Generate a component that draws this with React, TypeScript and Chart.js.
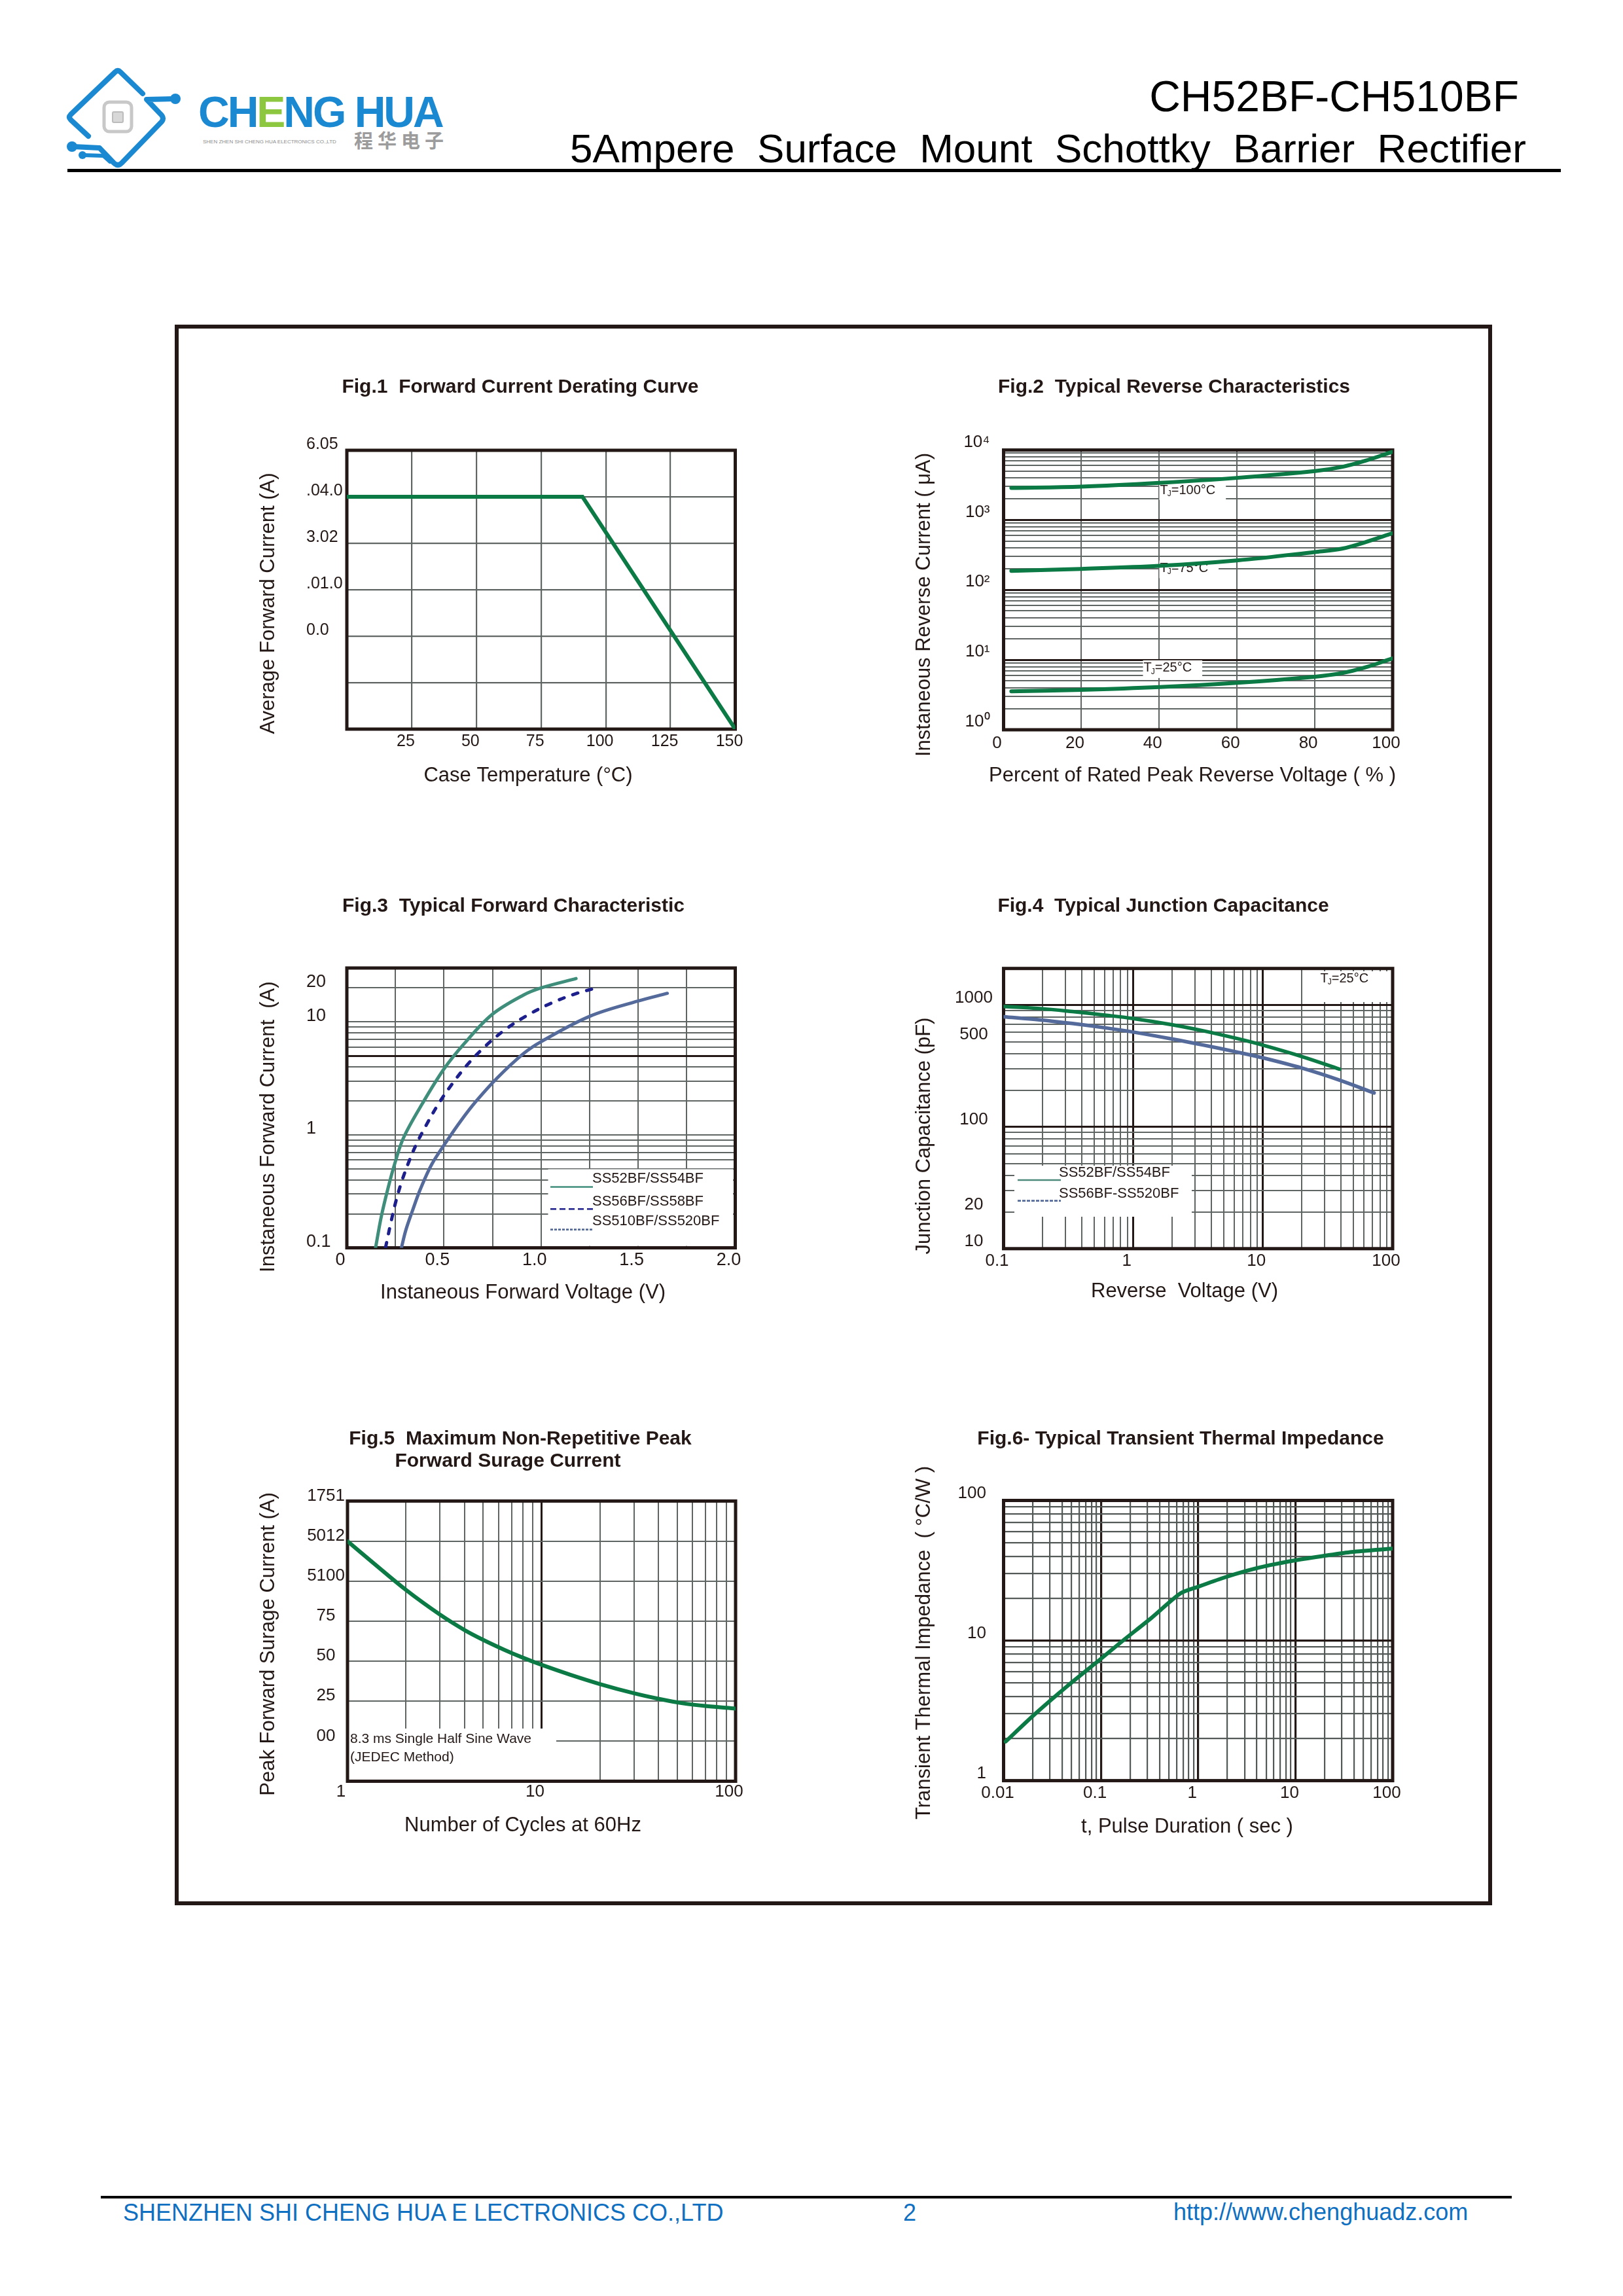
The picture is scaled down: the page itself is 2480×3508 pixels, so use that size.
import React, { useEffect, useRef } from 'react';
import { Chart, registerables } from 'chart.js';

Chart.register(...registerables);

const FONT = '"Liberation Sans", Arial, Helvetica, sans-serif';
const INK = '#231815';
const GREEN = '#0b7a45';
const TEAL = '#3f8e7b';
const NAVY = '#1d208c';
const SLATE = '#546a9b';
const GRID = '#5f6563';
const BLUE = '#1a89d2';
const FOOT_BLUE = '#0f6fc1';

const LOG_STEPS = [1, 2, 3, 4, 5, 6, 7, 8, 9];
const logTicks = (decades: number[], extra: number[]) => [
  ...decades.flatMap((d) => LOG_STEPS.map((s) => parseFloat((s * d).toPrecision(6)))),
  ...extra,
];

// ---------------- Fig.1 Forward Current Derating Curve
const fig1CaseTemp = [0, 91, 150];
const fig1AvgCurrent = [5, 5, 0];
const fig1XTicks = [0, 25, 50, 75, 100, 125, 150];
const fig1XLabels = ['', '25', '50', '75', '100', '125', '150'];
const fig1YTicks = [0, 1, 2, 3, 4, 5, 6];
const fig1YLabels = ['', '', '0.0', '.01.0', '3.02', '.04.0', '6.05'];

// ---------------- Fig.2 Typical Reverse Characteristics
const fig2Percent = [2, 20, 40, 60, 80, 87, 93, 100];
const fig2Tj100 = [2870, 3000, 3390, 4000, 5000, 5740, 7030, 9460];
const fig2Tj75 = [187, 200, 221, 264, 348, 389, 482, 647];
const fig2Tj25 = [3.55, 3.72, 4.07, 4.69, 5.74, 6.47, 7.8, 10.5];
const fig2XTicks = [0, 20, 40, 60, 80, 100];
const fig2XLabels = ['0', '20', '40', '60', '80', '100'];
const fig2YTicks = logTicks([1, 10, 100, 1000], [10000]);
const fig2YLabelValues = [1, 10, 100, 1000, 10000];
const fig2YLabels = ['10⁰', '10¹', '10²', '10³', '10⁴'];
const fig2YMajors = [10, 100, 1000];
const fig2NoteTemps = ['100°C', '75°C', '25°C'];
const fig2NoteX = [40.2, 40.2, 36];
const fig2NoteY = [2660, 203, 7.6];

// ---------------- Fig.3 Typical Forward Characteristic
const fig3VfA = [0.148, 0.177, 0.211, 0.246, 0.292, 0.388, 0.5, 0.607, 0.747, 0.91, 1.0, 1.18];
const fig3IfA = [0.1, 0.188, 0.332, 0.552, 0.943, 1.88, 3.83, 6.5, 11.6, 17.3, 20.0, 24.2];
const fig3VfB = [0.199, 0.227, 0.253, 0.283, 0.32, 0.36, 0.41, 0.47, 0.54, 0.62, 0.71, 0.81, 0.92, 1.05, 1.18, 1.306];
const fig3IfB = [0.1, 0.168, 0.26, 0.389, 0.582, 0.841, 1.23, 1.86, 2.79, 4.17, 6.03, 8.41, 11.2, 14.6, 17.8, 20.4];
const fig3VfC = [0.281, 0.303, 0.337, 0.379, 0.438, 0.522, 0.584, 0.663, 0.775, 0.91, 1.0, 1.25, 1.5, 1.65];
const fig3IfC = [0.1, 0.142, 0.211, 0.332, 0.552, 0.92, 1.31, 1.96, 3.2, 5.25, 6.68, 11.2, 15.3, 17.9];
const fig3XTicks = [0, 0.25, 0.5, 0.75, 1, 1.25, 1.5, 1.75, 2];
const fig3XLabelValues = [0, 0.5, 1, 1.5, 2];
const fig3XLabels = ['0', '0.5', '1.0', '1.5', '2.0'];
const fig3YTicks = logTicks([0.1, 1], [10, 20, 30]);
const fig3YLabelValues = [0.1, 1, 10, 20];
const fig3YLabels = ['0.1', '1', '10', '20'];
const fig3YMajors = [5];
const fig3Series = ['SS52BF/SS54BF', 'SS56BF/SS58BF', 'SS510BF/SS520BF'];

// ---------------- Fig.4 Typical Junction Capacitance
const fig4VrA = [0.1, 0.19, 0.34, 0.62, 1, 2, 3.5, 6.3, 10, 20, 39];
const fig4CjA = [975, 938, 885, 826, 776, 690, 614, 532, 469, 378, 298];
const fig4VrB = [0.1, 0.19, 0.34, 0.62, 1, 2, 3.5, 6.3, 10, 20, 39, 72];
const fig4CjB = [802, 757, 706, 649, 601, 527, 469, 412, 369, 304, 242, 190];
const fig4XTicks = logTicks([0.1, 1, 10], [100]);
const fig4XLabelValues = [0.1, 1, 10, 100];
const fig4XLabels = ['0.1', '1', '10', '100'];
const fig4XMajors = [1, 10];
const fig4YTicks = logTicks([10, 100], [1000, 2000]);
const fig4YLabelValues = [10, 20, 100, 500, 1000];
const fig4YLabels = ['10', '20', '100', '500', '1000'];
const fig4YMajors = [100, 1000];
const fig4Series = ['SS52BF/SS54BF', 'SS56BF-SS520BF'];

// ---------------- Fig.5 Maximum Non-Repetitive Peak Forward Surage Current
const fig5Cycles = [1, 1.35, 2, 3, 4, 5, 6.4, 8, 10, 14, 20, 30, 40, 54, 71, 100];
const fig5Ifsm = [149.9, 136.6, 119.5, 104.0, 94.5, 88.3, 82.2, 77.2, 72.7, 66.6, 60.7, 54.9, 51.5, 48.6, 46.9, 45.4];
const fig5XTicks = logTicks([1, 10], [100]);
const fig5XLabelValues = [1, 10, 100];
const fig5XLabels = ['1', '10', '100'];
const fig5XMajors = [10];
const fig5YTicks = [0, 25, 50, 75, 100, 125, 150, 175];
const fig5YLabels = ['', '00', '25', '50', '75', '5100', '5012', '1751'];
const fig5Note = ['8.3 ms Single Half Sine Wave', '(JEDEC Method)'];

// ---------------- Fig.6 Typical Transient Thermal Impedance
const fig6Time = [0.0105, 0.0206, 0.0447, 0.1, 0.166, 0.335, 0.658, 1, 1.84, 3.17, 5.45, 10, 20.4, 37.9, 100];
const fig6Zth = [1.9, 2.95, 4.7, 7.4, 9.9, 14.6, 21.7, 24.2, 28.1, 31.5, 34.5, 37.4, 40.4, 42.9, 45.3];
const fig6XTicks = logTicks([0.01, 0.1, 1, 10], [100]);
const fig6XLabelValues = [0.01, 0.1, 1, 10, 100];
const fig6XLabels = ['0.01', '0.1', '1', '10', '100'];
const fig6XMajors = [0.1, 1, 10];
const fig6YTicks = logTicks([1, 10], [100]);
const fig6YLabelValues = [1, 10, 100];
const fig6YLabels = ['1', '10', '100'];
const fig6YMajors = [10];

// ---------------- helpers
type AxisSpec = {
  type: 'linear' | 'logarithmic';
  min: number;
  max: number;
  ticks: number[];
  labelValues: number[];
  labels: string[];
  majors?: number[];
  labelOffset: number;
  padding: number;
  font: number;
  crossAlign?: 'near' | 'center' | 'far';
};
type TextSpec = { text: string; cx: number; cy: number };
type PFn = (x: number, y: number) => [number, number];
type FigSpec = {
  box: { L: number; R: number; T: number; B: number };
  yScaleLeft: number;
  titles: TextSpec[];
  xTitle: TextSpec;
  yTitle: TextSpec;
  x: AxisSpec;
  y: AxisSpec;
  datasets: () => any[];
  gridColor: string;
  gridWidth: number;
  majorWidth: number;
  under?: (chart: any, ctx: CanvasRenderingContext2D, P: PFn) => void;
  over?: (chart: any, ctx: CanvasRenderingContext2D, P: PFn) => void;
};

const near = (a: number, b: number) => b !== undefined && b !== null && Math.abs(a - b) <= 1e-9 + 1e-6 * Math.abs(a);

const line = (xs: number[], ys: number[], color: string, width: number, extra: any = {}) => ({
  data: xs.map((x, i) => ({ x, y: ys[i] })),
  borderColor: color,
  backgroundColor: color,
  borderWidth: width,
  pointRadius: 0,
  pointHoverRadius: 0,
  fill: false,
  tension: 0.35,
  borderCapStyle: 'round',
  borderJoinStyle: 'round',
  ...extra,
});

function tjLabel(ctx: CanvasRenderingContext2D, x: number, y: number, temp: string, fs: number, draw: boolean) {
  ctx.textAlign = 'left';
  ctx.textBaseline = 'middle';
  ctx.fillStyle = INK;
  const big = `${fs}px ${FONT}`;
  const small = `${Math.round(fs * 0.62)}px ${FONT}`;
  ctx.font = big;
  const w1 = ctx.measureText('T').width;
  ctx.font = small;
  const w2 = ctx.measureText('J').width;
  ctx.font = big;
  const w3 = ctx.measureText('=' + temp).width;
  if (draw) {
    ctx.font = big;
    ctx.fillText('T', x, y);
    ctx.font = small;
    ctx.fillText('J', x + w1 - 1, y + fs * 0.28);
    ctx.font = big;
    ctx.fillText('=' + temp, x + w1 + w2 - 1, y);
  }
  return w1 + w2 + w3;
}

function legendLine(ctx: CanvasRenderingContext2D, a: [number, number], x2: number, color: string, width: number, dash: number[]) {
  ctx.save();
  ctx.strokeStyle = color;
  ctx.lineWidth = width;
  ctx.setLineDash(dash);
  ctx.beginPath();
  ctx.moveTo(a[0], a[1]);
  ctx.lineTo(x2, a[1]);
  ctx.stroke();
  ctx.restore();
}

function leftText(ctx: CanvasRenderingContext2D, s: string, p: [number, number], size: number) {
  ctx.save();
  ctx.fillStyle = INK;
  ctx.font = `${size}px ${FONT}`;
  ctx.textAlign = 'left';
  ctx.textBaseline = 'middle';
  ctx.fillText(s, p[0], p[1]);
  ctx.restore();
}

function whiteRect(ctx: CanvasRenderingContext2D, P: PFn, x1: number, y1: number, x2: number, y2: number) {
  const [a, b] = P(x1, y1);
  ctx.fillStyle = '#ffffff';
  ctx.fillRect(a, b, x2 - x1, y2 - y1);
}

// ---------------- figure specifications (page coordinates)
const FIGS: FigSpec[] = [
  {
    box: { L: 530, R: 1123.5, T: 688, B: 1114 },
    yScaleLeft: 468,
    titles: [{ text: 'Fig.1  Forward Current Derating Curve', cx: 795, cy: 592 }],
    xTitle: { text: 'Case Temperature (°C)', cx: 807, cy: 1185 },
    yTitle: { text: 'Average Forward Current (A)', cx: 410, cy: 922 },
    x: { type: 'linear', min: 0, max: 150, ticks: fig1XTicks, labelValues: fig1XTicks, labels: fig1XLabels, labelOffset: -9, padding: 4, font: 25 },
    y: { type: 'linear', min: 0, max: 6, ticks: fig1YTicks, labelValues: fig1YTicks, labels: fig1YLabels, labelOffset: -9, padding: 0, font: 25, crossAlign: 'far' },
    datasets: () => [
      line(fig1CaseTemp, fig1AvgCurrent, GREEN, 6, { tension: 0, borderCapStyle: 'butt', borderJoinStyle: 'miter' }),
    ],
    gridColor: GRID,
    gridWidth: 2.2,
    majorWidth: 3,
  },
  {
    box: { L: 1533.5, R: 2128, T: 687.6, B: 1115 },
    yScaleLeft: 1440,
    titles: [{ text: 'Fig.2  Typical Reverse Characteristics', cx: 1794, cy: 592 }],
    xTitle: { text: 'Percent of Rated Peak Reverse Voltage ( % )', cx: 1822, cy: 1185 },
    yTitle: { text: 'Instaneous Reverse Current ( μA)', cx: 1412, cy: 924 },
    x: { type: 'linear', min: 0, max: 100, ticks: fig2XTicks, labelValues: fig2XTicks, labels: fig2XLabels, labelOffset: -10, padding: 5, font: 26 },
    y: { type: 'logarithmic', min: 1, max: 10000, ticks: fig2YTicks, labelValues: fig2YLabelValues, labels: fig2YLabels, majors: fig2YMajors, labelOffset: -12, padding: 21, font: 26, crossAlign: 'near' },
    datasets: () => [line(fig2Percent, fig2Tj100, GREEN, 6), line(fig2Percent, fig2Tj75, GREEN, 6), line(fig2Percent, fig2Tj25, GREEN, 6)],
    gridColor: GRID,
    gridWidth: 2,
    majorWidth: 3,
    under: (chart, ctx) => {
      const xs = chart.scales.x;
      const ys = chart.scales.y;
      fig2NoteTemps.forEach((t, i) => {
        const px = xs.getPixelForValue(fig2NoteX[i]);
        const py = ys.getPixelForValue(fig2NoteY[i]);
        const w = tjLabel(ctx, px, py, t, 20, false);
        ctx.fillStyle = '#ffffff';
        ctx.fillRect(px - 1, py - 12, w + 16, 27);
        tjLabel(ctx, px, py, t, 20, true);
      });
    },
  },
  {
    box: { L: 530, R: 1123.5, T: 1479, B: 1906.5 },
    yScaleLeft: 468,
    titles: [{ text: 'Fig.3  Typical Forward Characteristic', cx: 784.5, cy: 1384.5 }],
    xTitle: { text: 'Instaneous Forward Voltage (V)', cx: 799, cy: 1975.5 },
    yTitle: { text: 'Instaneous Forward Current  (A)', cx: 410, cy: 1721.7 },
    x: { type: 'linear', min: 0, max: 2, ticks: fig3XTicks, labelValues: fig3XLabelValues, labels: fig3XLabels, labelOffset: -10, padding: 3, font: 27 },
    y: { type: 'logarithmic', min: 0.1, max: 30, ticks: fig3YTicks, labelValues: fig3YLabelValues, labels: fig3YLabels, majors: fig3YMajors, labelOffset: -9, padding: 0, font: 27, crossAlign: 'far' },
    datasets: () => [
      line(fig3VfA, fig3IfA, TEAL, 5),
      line(fig3VfB, fig3IfB, NAVY, 5, { borderDash: [8, 14] }),
      line(fig3VfC, fig3IfC, SLATE, 5),
    ],
    gridColor: GRID,
    gridWidth: 2,
    majorWidth: 3,
    under: (chart, ctx, P) => {
      whiteRect(ctx, P, 837.5, 1786.4, 1120, 1903.6);
    },
    over: (chart, ctx, P) => {
      const rows = [
        { c: TEAL, dash: [] as number[], ly: 1813.5, ty: 1801 },
        { c: NAVY, dash: [9, 5], ly: 1847.3, ty: 1836.3 },
        { c: SLATE, dash: [4, 2], ly: 1878.6, ty: 1866 },
      ];
      rows.forEach((r, i) => {
        const a = P(841, r.ly);
        legendLine(ctx, a, P(906, r.ly)[0], r.c, 2.6, r.dash);
        leftText(ctx, fig3Series[i], P(905, r.ty), 22);
      });
    },
  },
  {
    box: { L: 1533.5, R: 2128, T: 1479.7, B: 1907.8 },
    yScaleLeft: 1440,
    titles: [{ text: 'Fig.4  Typical Junction Capacitance', cx: 1777.5, cy: 1384.5 }],
    xTitle: { text: 'Reverse  Voltage (V)', cx: 1810, cy: 1973.4 },
    yTitle: { text: 'Junction Capacitance (pF)', cx: 1412, cy: 1735.5 },
    x: { type: 'logarithmic', min: 0.1, max: 100, ticks: fig4XTicks, labelValues: fig4XLabelValues, labels: fig4XLabels, majors: fig4XMajors, labelOffset: -10, padding: 3, font: 26 },
    y: { type: 'logarithmic', min: 10, max: 2000, ticks: fig4YTicks, labelValues: fig4YLabelValues, labels: fig4YLabels, majors: fig4YMajors, labelOffset: -11, padding: 16.6, font: 26, crossAlign: 'center' },
    datasets: () => [line(fig4VrA, fig4CjA, GREEN, 5.5), line(fig4VrB, fig4CjB, SLATE, 5.5)],
    gridColor: GRID,
    gridWidth: 2,
    majorWidth: 3,
    under: (chart, ctx, P) => {
      whiteRect(ctx, P, 2010, 1484, 2125, 1531);
      whiteRect(ctx, P, 1550, 1781, 1821, 1859);
      const p = P(2017.5, 1495.4);
      tjLabel(ctx, p[0], p[1], '25°C', 20, true);
    },
    over: (chart, ctx, P) => {
      legendLine(ctx, P(1555, 1803), P(1621, 1803)[0], '#4d8a7b', 2.6, []);
      leftText(ctx, fig4Series[0], P(1618, 1791.5), 22);
      legendLine(ctx, P(1555, 1834.6), P(1621, 1834.6)[0], SLATE, 2.6, [5, 2]);
      leftText(ctx, fig4Series[1], P(1618, 1824), 22);
    },
  },
  {
    box: { L: 531, R: 1124, T: 2293.4, B: 2721.5 },
    yScaleLeft: 440,
    titles: [
      { text: 'Fig.5  Maximum Non-Repetitive Peak', cx: 795, cy: 2199 },
      { text: 'Forward Surage Current', cx: 776, cy: 2233 },
    ],
    xTitle: { text: 'Number of Cycles at 60Hz', cx: 799, cy: 2789 },
    yTitle: { text: 'Peak Forward Surage Current (A)', cx: 410, cy: 2512 },
    x: { type: 'logarithmic', min: 1, max: 100, ticks: fig5XTicks, labelValues: fig5XLabelValues, labels: fig5XLabels, majors: fig5XMajors, labelOffset: -10, padding: 1, font: 26 },
    y: { type: 'linear', min: 0, max: 175, ticks: fig5YTicks, labelValues: fig5YTicks, labels: fig5YLabels, labelOffset: -8, padding: 4, font: 26, crossAlign: 'center' },
    datasets: () => [line(fig5Cycles, fig5Ifsm, GREEN, 6)],
    gridColor: GRID,
    gridWidth: 2,
    majorWidth: 3,
    under: (chart, ctx, P) => {
      whiteRect(ctx, P, 531, 2641, 850, 2721.5);
      leftText(ctx, fig5Note[0], P(535, 2657), 21);
      leftText(ctx, fig5Note[1], P(535, 2685), 21);
    },
  },
  {
    box: { L: 1533.5, R: 2128, T: 2292.5, B: 2720.6 },
    yScaleLeft: 1440,
    titles: [{ text: 'Fig.6- Typical Transient Thermal Impedance', cx: 1804, cy: 2199 }],
    xTitle: { text: 't, Pulse Duration ( sec )', cx: 1814, cy: 2791.3 },
    yTitle: { text: 'Transient Thermal Impedance  ( °C/W )', cx: 1412, cy: 2510 },
    x: { type: 'logarithmic', min: 0.01, max: 100, ticks: fig6XTicks, labelValues: fig6XLabelValues, labels: fig6XLabels, majors: fig6XMajors, labelOffset: -9, padding: 4, font: 26 },
    y: { type: 'logarithmic', min: 1, max: 100, ticks: fig6YTicks, labelValues: fig6YLabelValues, labels: fig6YLabels, majors: fig6YMajors, labelOffset: -11, padding: 26.5, font: 26, crossAlign: 'near' },
    datasets: () => [line(fig6Time, fig6Zth, GREEN, 6, { tension: 0.25 })],
    gridColor: '#535957',
    gridWidth: 2.2,
    majorWidth: 3.2,
  },
];

function layoutOf(f: FigSpec) {
  const cl = Math.floor(Math.min(f.yScaleLeft, f.yTitle.cx - 20) - 20);
  const ct = Math.floor(f.box.T - 170);
  const cr = Math.ceil(f.box.R + 50);
  const cb = Math.ceil(f.xTitle.cy + 40);
  const xH = 60;
  return {
    cl,
    ct,
    cw: cr - cl,
    ch: cb - ct,
    pad: { left: f.yScaleLeft - cl, right: cr - f.box.R, top: f.box.T - ct, bottom: cb - f.box.B - xH },
    yW: f.box.L - f.yScaleLeft,
    xH,
  };
}

function axisOptions(a: AxisSpec, isY: boolean, f: FigSpec, lay: any) {
  const isMajor = (v: number) => (a.majors || []).some((m) => near(m, v));
  return {
    type: a.type,
    position: isY ? 'left' : 'bottom',
    min: a.min,
    max: a.max,
    bounds: 'data',
    afterBuildTicks: (s: any) => {
      s.ticks = a.ticks.map((v) => ({ value: v }));
    },
    afterFit: (s: any) => {
      if (isY) {
        s.width = lay.yW;
        s.paddingTop = 0;
        s.paddingBottom = 0;
      } else {
        s.height = lay.xH;
        s.paddingLeft = 0;
        s.paddingRight = 0;
      }
    },
    grid: {
      drawTicks: false,
      color: (c: any) => (c.tick && isMajor(c.tick.value) ? INK : f.gridColor),
      lineWidth: (c: any) => (c.tick && isMajor(c.tick.value) ? f.majorWidth : f.gridWidth),
    },
    border: { display: false },
    title: { display: false },
    ticks: {
      autoSkip: false,
      maxRotation: 0,
      minRotation: 0,
      padding: a.padding,
      labelOffset: a.labelOffset,
      crossAlign: a.crossAlign || 'near',
      color: INK,
      font: { family: FONT, size: a.font },
      callback: (v: any) => {
        const i = a.labelValues.findIndex((x) => near(x, Number(v)));
        return i < 0 ? '' : a.labels[i];
      },
    },
  };
}

function FigChart({ fig }: { fig: FigSpec }) {
  const ref = useRef<HTMLCanvasElement>(null);
  const lay = layoutOf(fig);
  useEffect(() => {
    const canvas = ref.current;
    if (!canvas) return;
    const P: PFn = (x, y) => [x - lay.cl, y - lay.ct];
    const deco = {
      id: 'sheetDeco',
      beforeDatasetsDraw(chart: any) {
        const ctx = chart.ctx as CanvasRenderingContext2D;
        ctx.save();
        if (fig.under) fig.under(chart, ctx, P);
        const a = chart.chartArea;
        ctx.strokeStyle = INK;
        ctx.lineWidth = 5;
        ctx.setLineDash([]);
        ctx.strokeRect(a.left, a.top, a.right - a.left, a.bottom - a.top);
        ctx.restore();
      },
      afterDatasetsDraw(chart: any) {
        const ctx = chart.ctx as CanvasRenderingContext2D;
        ctx.save();
        if (fig.over) fig.over(chart, ctx, P);
        ctx.restore();
      },
      afterDraw(chart: any) {
        const ctx = chart.ctx as CanvasRenderingContext2D;
        ctx.save();
        ctx.fillStyle = INK;
        ctx.textAlign = 'center';
        ctx.textBaseline = 'middle';
        ctx.font = `bold 30px ${FONT}`;
        for (const t of fig.titles) {
          const [x, y] = P(t.cx, t.cy);
          ctx.fillText(t.text, x, y);
        }
        ctx.font = `31px ${FONT}`;
        const [xx, xy] = P(fig.xTitle.cx, fig.xTitle.cy);
        ctx.fillText(fig.xTitle.text, xx, xy);
        const [yx, yy] = P(fig.yTitle.cx, fig.yTitle.cy);
        ctx.translate(yx, yy);
        ctx.rotate(-Math.PI / 2);
        ctx.fillText(fig.yTitle.text, 0, 0);
        ctx.restore();
      },
    };
    const chart = new Chart(canvas, {
      type: 'line',
      data: { datasets: fig.datasets() },
      options: {
        responsive: false,
        maintainAspectRatio: false,
        animation: false,
        devicePixelRatio: 1,
        events: [],
        layout: { padding: lay.pad },
        plugins: { legend: { display: false }, title: { display: false }, tooltip: { enabled: false } },
        scales: { x: axisOptions(fig.x, false, fig, lay), y: axisOptions(fig.y, true, fig, lay) } as any,
      } as any,
      plugins: [deco as any],
    });
    return () => chart.destroy();
  }, []);
  return (
    <canvas
      ref={ref}
      width={lay.cw}
      height={lay.ch}
      style={{ position: 'absolute', left: lay.cl, top: lay.ct, width: lay.cw, height: lay.ch }}
    />
  );
}

function Txt({ left, right, baseline, size, color, weight, family, spacing, children }: any) {
  return (
    <div
      style={{
        position: 'absolute',
        left,
        right,
        top: baseline - 0.8465 * size,
        fontSize: size,
        lineHeight: `${size}px`,
        whiteSpace: 'pre',
        fontFamily: family || FONT,
        fontWeight: weight || 400,
        letterSpacing: spacing || 0,
        color: color || '#000',
      }}
    >
      {children}
    </div>
  );
}

function Header() {
  return (
    <>
      <svg width={700} height={280} viewBox="0 0 700 280" style={{ position: 'absolute', left: 0, top: 0 }}>
        <g fill="none" stroke={BLUE} strokeWidth={8} strokeLinecap="round" strokeLinejoin="round">
          <path d="M135 208 L108 183 Q104 179 108 175 L176 110 Q180 106 184 110 L218 143" />
          <path d="M266 151 L224 152 L247 176 Q251 181 247 186 L186 249 Q180 255 174 249 L152 226 L112 224" />
          <path d="M127 237 L158 238 L168 247" strokeWidth={6} />
        </g>
        <circle cx={268} cy={151} r={8} fill={BLUE} />
        <circle cx={110} cy={224} r={8} fill={BLUE} />
        <circle cx={126} cy={237} r={6} fill={BLUE} />
        <rect x={159} y={156} width={42} height={45} rx={8} fill="none" stroke="#c8c8c8" strokeWidth={5} />
        <rect x={172} y={171} width={16} height={16} rx={2} fill="#d8d8d8" stroke="#bcbcbc" strokeWidth={2} />
      </svg>
      <Txt left={303} baseline={193.5} size={66} weight={700} spacing={-3} color={BLUE}>
        CH<span style={{ color: '#8dc63f' }}>E</span>NG HUA
      </Txt>
      <Txt left={310} baseline={219.5} size={8} color="#8c8c8c">
        SHEN ZHEN SHI CHENG HUA ELECTRONICS CO.,LTD
      </Txt>
      <div
        style={{
          position: 'absolute',
          left: 541,
          top: 199,
          fontSize: 29,
          lineHeight: '29px',
          letterSpacing: 7,
          fontWeight: 700,
          color: '#9c9c9c',
          whiteSpace: 'pre',
          fontFamily: '"Noto Sans CJK SC", sans-serif',
        }}
      >
        程华电子
      </div>
      <Txt right={2480 - 2321} baseline={170} size={66}>
        CH52BF-CH510BF
      </Txt>
      <Txt left={871} baseline={248} size={62}>
        5Ampere  Surface  Mount  Schottky  Barrier  Rectifier
      </Txt>
      <div style={{ position: 'absolute', left: 103, top: 258, width: 2282, height: 5, background: '#000' }} />
    </>
  );
}

function Footer() {
  return (
    <>
      <div style={{ position: 'absolute', left: 154, top: 3355, width: 2156, height: 4, background: '#000' }} />
      <Txt left={188} baseline={3393} size={36} color={FOOT_BLUE}>
        SHENZHEN SHI CHENG HUA E LECTRONICS CO.,LTD
      </Txt>
      <Txt left={1380} baseline={3393} size={36} color={FOOT_BLUE}>
        2
      </Txt>
      <Txt left={1793} baseline={3392} size={36} color={FOOT_BLUE}>
        http://www.chenghuadz.com
      </Txt>
    </>
  );
}

export default function App() {
  return (
    <div
      style={{
        position: 'absolute',
        left: 0,
        top: 0,
        width: 2480,
        height: 3508,
        background: '#ffffff',
        overflow: 'hidden',
        fontFamily: FONT,
      }}
    >
      <Header />
      <div
        style={{
          position: 'absolute',
          left: 267,
          top: 496,
          width: 2013,
          height: 2415,
          border: `6px solid ${INK}`,
          boxSizing: 'border-box',
        }}
      />
      {FIGS.map((f, i) => (
        <FigChart key={i} fig={f} />
      ))}
      <Footer />
    </div>
  );
}
